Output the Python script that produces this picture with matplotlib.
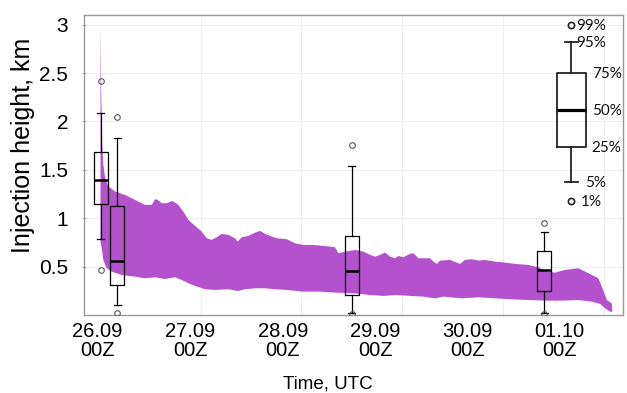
import numpy as np
import matplotlib.pyplot as plt

# time axis in days from the start of the run (grid lines at whole days)
upper_t = [0.008, 0.015, 0.021, 0.026, 0.036, 0.053, 0.085, 0.152, 0.251, 0.317,
           0.383, 0.449, 0.516, 0.549, 0.581, 0.615, 0.665, 0.720, 0.780, 0.829,
           0.879, 0.945, 1.012, 1.062, 1.111, 1.161, 1.210, 1.276, 1.342, 1.369,
           1.409, 1.474, 1.541, 1.590, 1.640, 1.690, 1.756, 1.855, 1.938, 2.020,
           2.119, 2.218, 2.334, 2.367, 2.434, 2.533, 2.615, 2.682, 2.731, 2.781,
           2.830, 2.880, 2.929, 2.962, 3.012, 3.078, 3.111, 3.161, 3.277, 3.310,
           3.343, 3.376, 3.475, 3.574, 3.624, 3.690, 3.756, 3.822, 3.921, 4.021,
           4.120, 4.252, 4.351, 4.435, 4.517, 4.616, 4.748, 4.815, 4.881, 4.946,
           4.980, 5.030, 5.079, 5.085]
upper_h = [3.00, 2.30, 1.97, 1.73, 1.55, 1.42, 1.33, 1.276, 1.24, 1.207,
           1.172, 1.138, 1.138, 1.197, 1.186, 1.155, 1.155, 1.179, 1.138, 1.069,
           0.983, 0.921, 0.862, 0.793, 0.776, 0.804, 0.838, 0.828, 0.793, 0.758,
           0.804, 0.817, 0.851, 0.869, 0.838, 0.817, 0.793, 0.783, 0.741, 0.724,
           0.724, 0.714, 0.700, 0.638, 0.655, 0.672, 0.655, 0.621, 0.603, 0.621,
           0.645, 0.603, 0.586, 0.610, 0.597, 0.631, 0.638, 0.586, 0.586, 0.552,
           0.528, 0.562, 0.569, 0.528, 0.569, 0.576, 0.562, 0.569, 0.552, 0.541,
           0.528, 0.517, 0.493, 0.448, 0.438, 0.466, 0.483, 0.448, 0.414, 0.379,
           0.293, 0.155, 0.121, 0.034]

lower_t = [0.008, 0.020, 0.036, 0.069, 0.119, 0.218, 0.350, 0.449, 0.549, 0.648,
           0.747, 0.813, 0.879, 0.945, 1.045, 1.144, 1.276, 1.369, 1.441, 1.541,
           1.640, 1.739, 1.855, 2.020, 2.185, 2.351, 2.516, 2.682, 2.813, 2.946,
           3.078, 3.210, 3.326, 3.409, 3.591, 3.756, 3.921, 4.087, 4.252, 4.418,
           4.583, 4.748, 4.881, 4.963, 5.013, 5.063]
lower_h = [0.75, 0.69, 0.569, 0.483, 0.448, 0.414, 0.396, 0.379, 0.390, 0.372,
           0.390, 0.362, 0.328, 0.300, 0.266, 0.259, 0.266, 0.248, 0.266, 0.276,
           0.276, 0.266, 0.259, 0.241, 0.241, 0.231, 0.224, 0.207, 0.197, 0.207,
           0.197, 0.190, 0.172, 0.190, 0.172, 0.183, 0.172, 0.162, 0.155, 0.148,
           0.148, 0.155, 0.138, 0.114, 0.069, 0.034]

# box plots of observed heights
box_t = [0.01, 0.175, 2.5, 4.41]
box_p5 = [0.79, 0.10, 0.02, 0.02]
box_p25 = [1.15, 0.31, 0.21, 0.25]
box_p50 = [1.40, 0.56, 0.45, 0.47]
box_p75 = [1.68, 1.13, 0.82, 0.665]
box_p95 = [2.09, 1.83, 1.54, 0.86]
box_p1 = [0.47, 0.02, 0.01, 0.01]
box_p99 = [2.42, 2.05, 1.76, 0.955]

tick_pos = [-0.022, 0.899, 1.816, 2.733, 3.646, 4.56]
tick_labels = ["26.09\n00Z", "27.09\n00Z", "28.09\n00Z", "29.09\n00Z", "30.09\n00Z", "01.10\n00Z"]
y_ticks = [0.5, 1, 1.5, 2, 2.5, 3]
y_labels = ["0.5", "1", "1.5", "2", "2.5", "3"]

# legend key: percentile label and its place inside the key box
key_labels = ["1%", "5%", "25%", "50%", "75%", "95%", "99%"]
key_y = [185.7, 166.7, 131.7, 95.0, 58.3, 27.3, 10.0]

plt.rcParams['font.family'] = ['Liberation Sans', 'DejaVu Sans']

fig = plt.figure(figsize=(6.27, 3.93), dpi=100)
ax = fig.add_axes([84 / 627, 78 / 393, 539 / 627, 300 / 393])

purple = '#B452CD'
ax.fill(np.concatenate([upper_t, lower_t[::-1]]),
        np.concatenate([upper_h, lower_h[::-1]]),
        color=purple, lw=0, zorder=2)

stats = []
for i in range(len(box_t)):
    stats.append(dict(med=box_p50[i], q1=box_p25[i], q3=box_p75[i],
                      whislo=box_p5[i], whishi=box_p95[i],
                      fliers=[box_p1[i], box_p99[i]]))
ax.bxp(stats, positions=box_t, widths=0.14, capwidths=0.07,
       manage_ticks=False, zorder=3,
       boxprops=dict(color='black', lw=0.9),
       whiskerprops=dict(color='black', lw=0.9),
       capprops=dict(color='black', lw=0.9),
       medianprops=dict(color='black', lw=1.8),
       flierprops=dict(marker='o', markersize=4, markerfacecolor='none',
                       markeredgecolor='#555555', markeredgewidth=0.8))

ax.set_xlim(-0.156, 5.19)
ax.set_ylim(0, 3.1)
ax.set_xticks(tick_pos)
ax.set_xticklabels(tick_labels, fontsize=14.5, linespacing=1.0)
ax.set_xticks([1, 2, 3, 4, 5], minor=True)
ax.set_yticks(y_ticks)
ax.set_yticklabels(y_labels, fontsize=15)
ax.tick_params(axis='x', which='both', length=0, pad=5)
ax.tick_params(axis='y', length=3, direction='inout', color='#aaaaaa', pad=10)
ax.grid(True, which='major', axis='y', color='#eeeeee', lw=0.8, zorder=0)
ax.grid(True, which='minor', axis='x', color='#eeeeee', lw=0.8, zorder=0)
for s in ax.spines.values():
    s.set_color('#999999')
    s.set_linewidth(1.0)

ax.set_ylabel("Injection height, km", fontsize=18)
ax.yaxis.set_label_coords(-0.09, 0.564)
ax.set_xlabel("Time, UTC", fontsize=13.5)
ax.xaxis.set_label_coords(0.453, -0.203)

# percentile key in the top right corner
key = fig.add_axes([552 / 627, (393 - 215) / 393, 70 / 627, 200 / 393])
key.set_xlim(0, 70)
key.set_ylim(200, 0)
key.set_facecolor('white')
key.axis('off')
key.patch.set_visible(True)
key.bxp([dict(med=key_y[3], q1=key_y[2], q3=key_y[4], whislo=key_y[1],
              whishi=key_y[5], fliers=[key_y[0], key_y[6]])],
        positions=[19.3], widths=29, capwidths=13, manage_ticks=False,
        boxprops=dict(color='#222222', lw=1.3),
        whiskerprops=dict(color='#222222', lw=1.3),
        capprops=dict(color='#222222', lw=1.3),
        medianprops=dict(color='black', lw=2.3),
        flierprops=dict(marker='o', markersize=4.5, markerfacecolor='none',
                        markeredgecolor='#222222', markeredgewidth=1.2))
key_x = [28.5, 33, 39.7, 39.7, 39.7, 24.7, 24.5]
for lab, x, y in zip(key_labels, key_x, key_y):
    key.text(x, y + 1, lab, ha='left', va='center', fontsize=11,
             family=['Lato', 'DejaVu Sans'], color='#111111')

fig.savefig("out.png", dpi=100)
